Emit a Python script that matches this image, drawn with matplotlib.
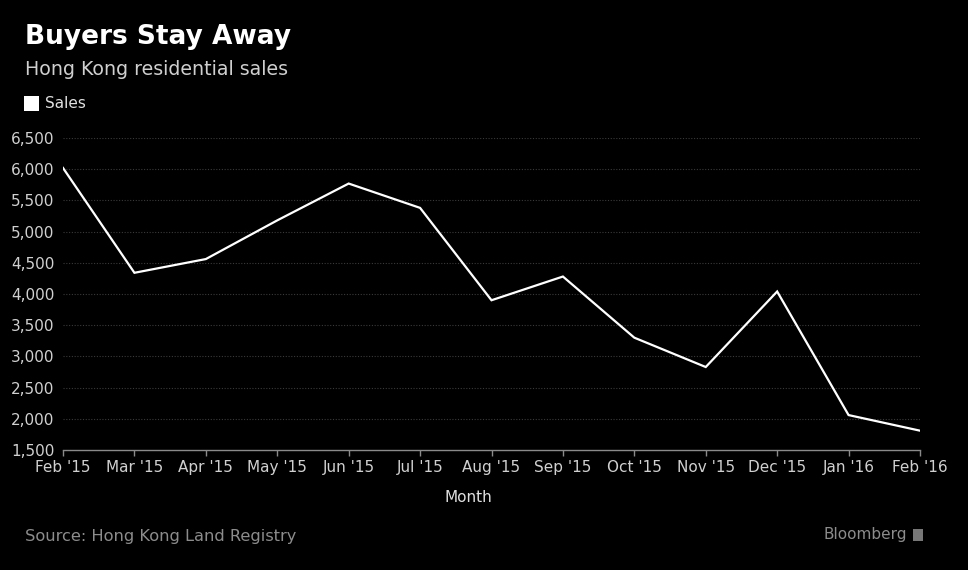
import matplotlib.pyplot as plt
from matplotlib.patches import Rectangle

months = ["Feb '15", "Mar '15", "Apr '15", "May '15", "Jun '15", "Jul '15", "Aug '15",
          "Sep '15", "Oct '15", "Nov '15", "Dec '15", "Jan '16", "Feb '16"]
sales = [6020, 4340, 4560, 5180, 5770, 5380, 3900, 4280, 3300, 2830, 4040, 2060, 1810]
y_ticks = [1500, 2000, 2500, 3000, 3500, 4000, 4500, 5000, 5500, 6000, 6500]

fig = plt.figure(figsize=(9.68, 5.7), dpi=100, facecolor='black')
ax = fig.add_axes([0.0651, 0.2105, 0.8853, 0.5474], facecolor='black')

x = list(range(len(months)))
ax.plot(x, sales, color='white', linewidth=1.6, solid_joinstyle='miter')

ax.set_xlim(0, len(months) - 1)
ax.set_ylim(1500, 6500)
ax.set_yticks(y_ticks)
ax.set_yticklabels([f'{v:,}' for v in y_ticks])
ax.set_xticks(x)
ax.set_xticklabels(months)

# dotted gridlines
for v in y_ticks[1:]:
    ax.axhline(v, color='#3a3a3a', linewidth=0.8, linestyle=(0, (1, 1.5)), zorder=0)

for side in ['top', 'right', 'left']:
    ax.spines[side].set_visible(False)
ax.spines['bottom'].set_color('#8a8a8a')
ax.spines['bottom'].set_linewidth(1.0)

ax.tick_params(axis='x', colors='#8a8a8a', direction='out', length=4, width=1,
               labelcolor='#d0d0d0', labelsize=11, pad=3)
ax.tick_params(axis='y', length=0, labelcolor='#d0d0d0', labelsize=11, pad=6)

fig.text(468 / 968, 1 - 497 / 570, 'Month', color='#e0e0e0', fontsize=11,
         ha='center', va='center')

fig.text(0.026, 0.935, 'Buyers Stay Away', color='white', fontsize=19,
         fontweight='bold', ha='left', va='center')
fig.text(0.026, 0.878, 'Hong Kong residential sales', color='#cfcfcf', fontsize=13.7,
         ha='left', va='center')

# legend
fig.patches.append(Rectangle((24 / 968, 1 - 111 / 570), 15 / 968, 15 / 570,
                             transform=fig.transFigure, facecolor='white', edgecolor='none'))
fig.text(45 / 968, 1 - 104 / 570, 'Sales', color='#e0e0e0', fontsize=11,
         ha='left', va='center')

fig.text(0.026, 1 - 537 / 570, 'Source: Hong Kong Land Registry', color='#8c8c8c',
         fontsize=11.7, ha='left', va='center')
fig.text(0.937, 1 - 535 / 570, 'Bloomberg', color='#8c8c8c', fontsize=11,
         ha='right', va='center')
fig.patches.append(Rectangle((913 / 968, 1 - 541 / 570), 10 / 968, 12 / 570,
                             transform=fig.transFigure, facecolor='#777777', edgecolor='none'))

fig.savefig('out.png', dpi=100, facecolor='black')
